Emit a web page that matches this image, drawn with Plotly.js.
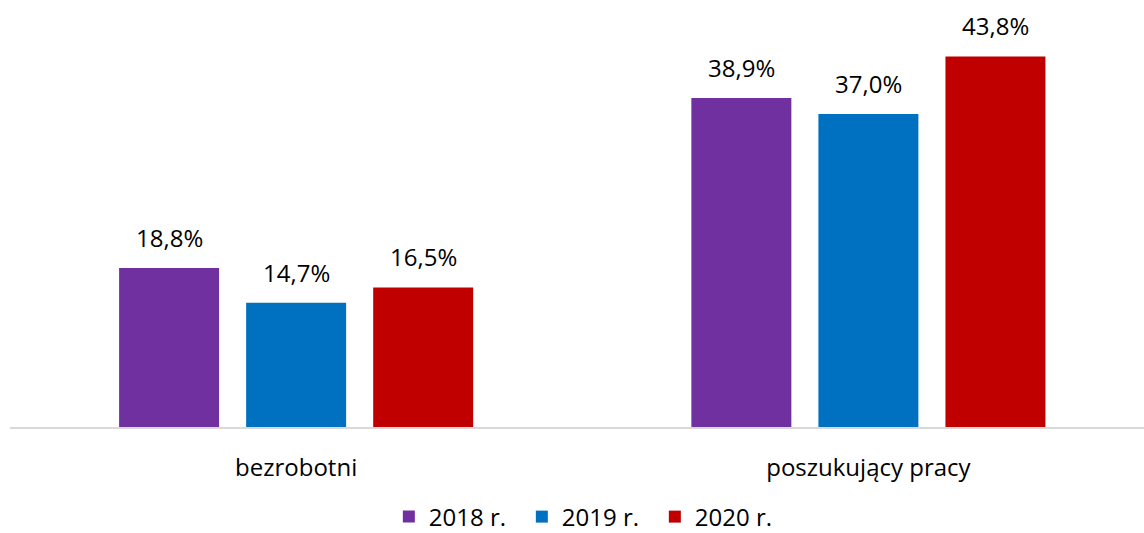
<!DOCTYPE html>
<html>
<head>
<meta charset="utf-8">
<script src="https://cdn.plot.ly/plotly-3.0.1.min.js"></script>
<style>
  html, body { margin: 0; padding: 0; background: #fff; }
  #chart { width: 1144px; height: 533px; }
</style>
</head>
<body>
<div id="chart"></div>
<script>
var categories = ['bezrobotni', 'poszukujący pracy'];
var years = ['2018 r.', '2019 r.', '2020 r.'];
var values2018 = [18.8, 38.9];
var values2019 = [14.7, 37.0];
var values2020 = [16.5, 43.8];
var colors = ['#7030a0', '#0070c0', '#c00000'];

var series = [values2018, values2019, values2020];
var fontFamily = '"Open Sans", "Noto Sans", sans-serif';
var fontSize = 24;

var traces = series.map(function (vals, i) {
    return {
        type: 'bar',
        name: years[i],
        x: categories,
        y: vals,
        marker: { color: colors[i] },
        hoverinfo: 'none'
    };
});

// value labels above bars
var bargap = 0.334;
var slot = (1 - bargap) / series.length;
var annotations = [];
series.forEach(function (vals, i) {
    vals.forEach(function (v, j) {
        annotations.push({
            x: j + (i - (series.length - 1) / 2) * slot,
            y: v,
            xref: 'x',
            yref: 'y',
            text: v.toFixed(1).replace('.', ',') + '%',
            showarrow: false,
            yanchor: 'bottom',
            yshift: 12,
            font: { family: fontFamily, size: fontSize, color: '#000' }
        });
    });
});

var layout = {
    width: 1144,
    height: 533,
    margin: { l: 10, r: 0, t: 4, b: 106, autoexpand: false },
    paper_bgcolor: '#fff',
    plot_bgcolor: '#fff',
    barmode: 'group',
    bargap: bargap,
    bargroupgap: 0.213,
    font: { family: fontFamily, size: fontSize, color: '#000' },
    xaxis: {
        type: 'category',
        range: [-0.5, 1.4816],
        showline: true,
        linecolor: '#d9d9d9',
        linewidth: 2,
        ticks: 'outside',
        ticklen: 18,
        tickcolor: 'rgba(0,0,0,0)',
        showgrid: false,
        automargin: false,
        tickfont: { family: fontFamily, size: fontSize, color: '#000' }
    },
    yaxis: {
        range: [0, 50],
        visible: false,
        showgrid: false,
        zeroline: false
    },
    showlegend: true,
    legend: {
        orientation: 'h',
        x: 0.51,
        xanchor: 'center',
        y: -0.266,
        yanchor: 'bottom',
        font: { family: fontFamily, size: fontSize, color: '#000' },
        itemwidth: 30,
        entrywidth: 88,
        entrywidthmode: 'pixels',
        tracegroupgap: 0
    },
    annotations: annotations
};

Plotly.newPlot('chart', traces, layout, { displayModeBar: false, staticPlot: true });
</script>
</body>
</html>
